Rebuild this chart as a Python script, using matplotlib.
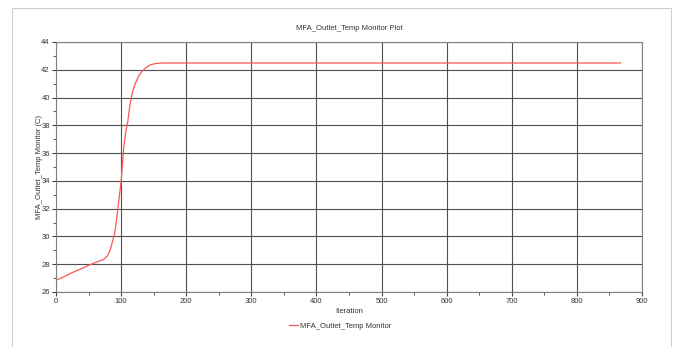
import numpy as np
import matplotlib
matplotlib.use('Agg')
import matplotlib.pyplot as plt
from matplotlib.patches import Rectangle

plt.rcParams['font.family'] = ['Liberation Sans', 'DejaVu Sans']

# monitor values
iteration = [0, 10, 25, 40, 53, 65, 73, 79, 83, 86, 90, 93, 96, 100, 104, 107,
             110, 114, 118, 122, 127, 132, 138, 145, 152, 160, 170, 200, 400, 600, 867]
temp = [26.85, 27.05, 27.4, 27.7, 27.98, 28.2, 28.34, 28.6, 29.0, 29.5, 30.2, 31.2,
        32.4, 33.94, 36.4, 37.5, 38.2, 39.6, 40.5, 41.04, 41.55, 41.88, 42.15, 42.36,
        42.44, 42.48, 42.49, 42.49, 42.49, 42.49, 42.49]

title = 'MFA_Outlet_Temp Monitor Plot'
xlabel = 'Iteration'
ylabel = 'MFA_Outlet_Temp Monitor (C)'
series_name = 'MFA_Outlet_Temp Monitor'

fig = plt.figure(figsize=(6.73, 3.47), dpi=100)
fig.patches.append(Rectangle((12 / 673, -0.1), 659 / 673, 1.1 - 8 / 347,
                             transform=fig.transFigure, fill=False,
                             edgecolor='#d0d0d0', linewidth=0.8))
ax = fig.add_axes([56 / 673, 55 / 347, 586 / 673, 250 / 347])

ax.plot(iteration, temp, color='#ff5555', linewidth=0.9, label=series_name)

ax.set_xlim(0, 900)
ax.set_ylim(26, 44)
ax.set_xticks(np.arange(0, 901, 100))
ax.set_yticks(np.arange(26, 45, 2))
ax.set_xticks(np.arange(50, 900, 100), minor=True)
ax.set_yticks(np.arange(27, 44, 2), minor=True)
ax.grid(True, which='major', color='#505050', linewidth=0.8)
for s in ax.spines.values():
    s.set_color('#808080')
    s.set_linewidth(0.8)
ax.tick_params(which='both', direction='out', colors='#404040', labelsize=5.5,
               labelcolor='#333333', pad=1.5)
ax.tick_params(which='major', length=3)
ax.tick_params(which='minor', length=2)

ax.set_title(title, fontsize=5.5, color='#333333', pad=9)
ax.set_xlabel(xlabel, fontsize=5.5, color='#333333', labelpad=2)
ax.set_ylabel(ylabel, fontsize=5.5, color='#333333', labelpad=-1)

fig.legend(loc='center', bbox_to_anchor=(340 / 673, 1 - 326 / 347), frameon=False,
           fontsize=5.5, handlelength=1.2, handletextpad=0.3, labelcolor='#333333')

fig.savefig('out.png', dpi=100)
